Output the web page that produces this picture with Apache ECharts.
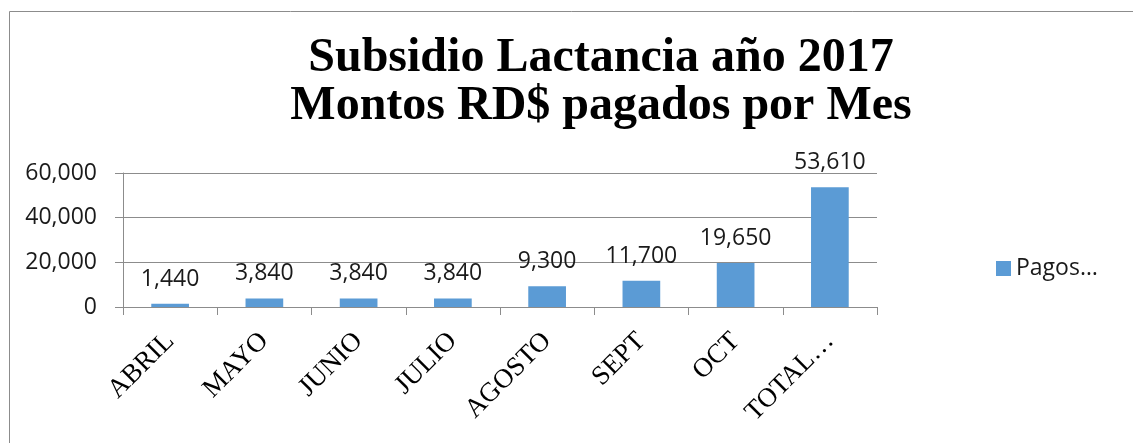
<!DOCTYPE html>
<html>
<head>
<meta charset="utf-8">
<script src="https://cdn.jsdelivr.net/npm/echarts@6/dist/echarts.min.js"></script>
<style>
  html, body { margin: 0; padding: 0; background: #fff; }
  #chart { width: 1133px; height: 443px; }
</style>
</head>
<body>
<div id="chart"></div>
<script>
// data
var categories = ['ABRIL', 'MAYO', 'JUNIO', 'JULIO', 'AGOSTO', 'SEPT', 'OCT', 'TOTAL…']
var pagos = [1440, 3840, 3840, 3840, 9300, 11700, 19650, 53610]
var seriesName = 'Pagos…'
var yTicks = { min: 0, max: 60000, interval: 20000 }

var fmt = function (v) { return Number(v).toLocaleString('en-US') }

var chart = echarts.init(document.getElementById('chart'))

chart.setOption({
  backgroundColor: '#fff',
  animation: false,
  graphic: [{
    type: 'rect',
    left: 7,
    top: 9,
    shape: { width: 1140, height: 450 },
    style: { fill: 'none', stroke: '#8c8c8c', lineWidth: 1 }
  }],
  title: {
    text: 'Subsidio Lactancia año 2017\nMontos RD$ pagados por Mes',
    left: 596,
    top: 30,
    textAlign: 'center',
    textStyle: {
      fontFamily: 'Liberation Serif',
      fontWeight: 'bold',
      fontSize: 48,
      lineHeight: 48,
      color: '#000'
    }
  },
  legend: {
    left: 991,
    top: 252,
    icon: 'rect',
    itemWidth: 15,
    itemHeight: 15,
    itemGap: 6,
    data: [seriesName],
    textStyle: {
      fontFamily: 'Open Sans',
      fontSize: 23,
      color: '#1a1a1a'
    }
  },
  grid: {
    left: 123,
    right: 256,
    top: 173,
    bottom: 136
  },
  xAxis: {
    type: 'category',
    data: categories,
    axisLine: { lineStyle: { color: '#8c8c8c' } },
    axisTick: { show: true, length: 8, lineStyle: { color: '#8c8c8c' } },
    axisLabel: {
      interval: 0,
      rotate: 45,
      margin: 30,
      fontFamily: 'Liberation Serif',
      fontSize: 27,
      color: '#000'
    }
  },
  yAxis: {
    type: 'value',
    min: yTicks.min,
    max: yTicks.max,
    interval: yTicks.interval,
    axisLine: { show: true, lineStyle: { color: '#8c8c8c' } },
    axisTick: { show: true, length: 8, lineStyle: { color: '#8c8c8c' } },
    splitLine: { lineStyle: { color: '#8c8c8c' } },
    axisLabel: {
      margin: 26,
      formatter: fmt,
      fontFamily: 'Open Sans',
      fontSize: 23,
      color: '#1a1a1a'
    }
  },
  series: [{
    name: seriesName,
    type: 'bar',
    data: pagos,
    barWidth: '40%',
    itemStyle: { color: '#5b9bd5' },
    label: {
      show: true,
      position: 'top',
      distance: 13,
      formatter: function (p) { return fmt(p.value) },
      fontFamily: 'Open Sans',
      fontSize: 23,
      color: '#1a1a1a'
    }
  }]
})
</script>
</body>
</html>
